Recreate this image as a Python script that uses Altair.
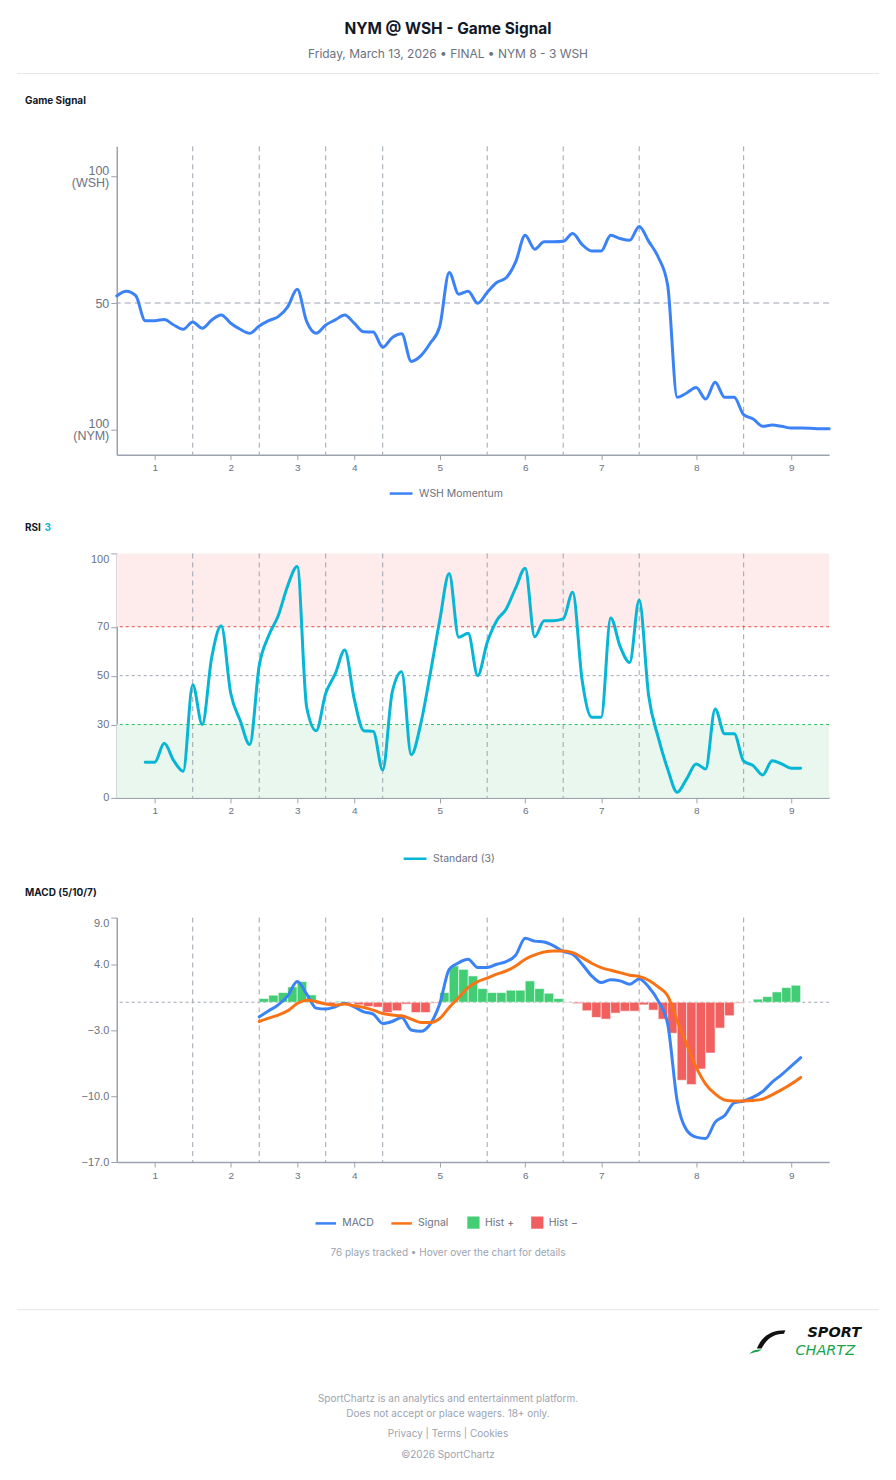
import altair as alt
import pandas as pd

FONT = "Inter"
PANEL_W = 714          # plot width shared by the three panels
LEFT = 116             # plot origin from the page's left edge

# ---------------- game structure ----------------
N_PLAYS = 76
inning_breaks = [8, 15, 22, 28, 39, 47, 55, 66]
inning_ticks = [4, 12, 19, 25, 34, 43, 51, 61, 71]
inning_labels = ["1", "2", "3", "4", "5", "6", "7", "8", "9"]

# ---------------- WSH momentum (0 = NYM 100, 100 = WSH 100) ----------------
wsh_momentum = [52.8, 54.7, 52.9, 43.0, 43.0, 43.5, 41.3, 39.6, 42.5, 40.0,
                43.3, 45.3, 42.0, 39.6, 38.0, 40.9, 43.0, 44.6, 48.5, 55.4,
                42.6, 38.0, 41.3, 43.3, 45.3, 42.0, 38.6, 38.5, 32.5, 36.3,
                37.8, 26.9, 29.1, 34.1, 40.7, 62.1, 53.5, 54.7, 49.9, 54.2,
                58.1, 60.0, 66.3, 76.8, 71.3, 74.2, 74.2, 74.4, 77.5, 73.1,
                70.6, 70.6, 76.8, 75.5, 74.8, 80.3, 74.4, 68.2, 57.0, 12.7,
                14.4, 16.6, 12.0, 18.6, 12.7, 12.7, 5.8, 4.1, 1.2, 1.7,
                1.2, 0.5, 0.5, 0.4, 0.2, 0.2]

# ---------------- RSI(3), first value at play 3 ----------------
rsi_start = 3
rsi_values = [14.6, 14.6, 22.3, 15.2, 10.9, 46.3, 30.0, 57.5, 70.4, 42.8,
              31.6, 21.8, 54.1, 66.4, 74.5, 86.8, 94.6, 37.0, 27.5, 42.8,
              50.7, 60.5, 40.5, 27.5, 27.2, 11.4, 43.2, 51.6, 17.6, 30.2,
              50.7, 72.5, 91.8, 65.7, 67.3, 50.0, 63.6, 72.5, 77.3, 85.9,
              93.9, 65.9, 72.5, 72.5, 73.2, 84.1, 48.0, 33.0, 33.0, 73.6,
              61.9, 55.4, 80.9, 41.8, 24.8, 11.8, 2.3, 7.8, 13.9, 11.8,
              36.4, 26.2, 26.2, 15.0, 13.2, 9.4, 15.2, 13.9, 12.1, 12.1]
rsi_upper, rsi_mid, rsi_lower = 70, 50, 30

# ---------------- MACD(5/10/7), first value at play 15 ----------------
macd_start = 15
macd_values = [-1.55, -0.91, -0.28, 0.68, 2.2, 0.86, -0.63, -0.73, -0.49, -0.1,
               -0.49, -1.02, -1.26, -2.26, -2.05, -1.62, -2.96, -3.1, -2.32, -0.2,
               3.5, 4.2, 4.57, 3.7, 3.7, 4.04, 4.32, 5.0, 6.8, 6.5,
               6.4, 6.0, 5.4, 5.1, 4.04, 2.8, 2.09, 2.4, 2.27, 1.92,
               2.48, 1.63, 0.15, -2.3, -10.5, -13.6, -14.35, -14.5, -12.75, -12.05,
               -10.7, -10.5, -10.1, -9.5, -8.5, -7.7, -6.8, -5.9]
signal_values = [-2.05, -1.69, -1.37, -0.91, -0.14, 0.22, 0.07, -0.2, -0.31, -0.2,
                 -0.38, -0.56, -0.84, -1.2, -1.37, -1.44, -1.79, -2.15, -2.15, -1.73,
                 -0.56, 0.5, 1.56, 2.2, 2.56, 2.98, 3.33, 3.86, 4.57, 5.03,
                 5.34, 5.45, 5.45, 5.27, 4.74, 4.15, 3.68, 3.4, 3.15, 2.87,
                 2.73, 2.34, 1.63, 0.68, -1.97, -4.44, -6.9, -8.7, -9.75, -10.4,
                 -10.5, -10.5, -10.45, -10.3, -9.85, -9.3, -8.7, -8.0]
hist_start = 16
hist_values = [0.39, 0.75, 1.03, 1.63, 2.2, 0.78, -0.2, -0.28, 0.1, -0.1,
               -0.28, -0.46, -0.53, -1.09, -0.91, -0.2, -1.1, -1.1, -0.1, 1.03,
               3.86, 3.5, 2.8, 1.45, 1.03, 1.03, 1.28, 1.28, 2.27, 1.45,
               0.96, 0.39, -0.05, -0.15, -0.91, -1.62, -1.8, -1.16, -0.95, -0.95,
               -0.28, -0.84, -1.8, -3.3, -8.3, -8.76, -7.1, -5.4, -2.75, -1.44,
               -0.1, 0.0, 0.33, 0.6, 1.1, 1.56, 1.81]
macd_ticks = [9, 4, -3, -10, -17]

# ---------------- colours ----------------
BLUE = "#3b82f6"
CYAN = "#06b6d4"
ORANGE = "#f97316"
GREEN = "#22c55e"
RED = "#ef4444"
AXIS_GRAY = "#9ca3af"
LABEL_GRAY = "#6b7280"
DARK = "#111827"

# ---------------- tables ----------------
one = pd.DataFrame({"k": [0]})
gs_df = pd.DataFrame({"play": list(range(N_PLAYS)), "value": wsh_momentum,
                      "series": "WSH Momentum"})
rsi_df = pd.DataFrame({"play": list(range(rsi_start, rsi_start + len(rsi_values))),
                       "value": rsi_values, "series": "Standard (3)"})
macd_plays = list(range(macd_start, macd_start + len(macd_values)))
lines_df = pd.concat([
    pd.DataFrame({"play": macd_plays, "value": macd_values, "series": "MACD"}),
    pd.DataFrame({"play": macd_plays, "value": signal_values, "series": "Signal"}),
])
hist_plays = list(range(hist_start, hist_start + len(hist_values)))
hist_df = pd.DataFrame({
    "start": [p - 1 for p in hist_plays],
    "end": hist_plays,
    "value": hist_values,
    "kind": ["Hist +" if v >= 0 else "Hist \u2212" for v in hist_values],
})
breaks_df = pd.DataFrame({"b": inning_breaks})

# ---------------- shared x axis ----------------
label_list = "[" + ",".join(f"'{s}'" for s in inning_labels) + "]"
tick_list = "[" + ",".join(str(t) for t in inning_ticks) + "]"
x_axis = alt.Axis(values=inning_ticks, labelExpr=f"{label_list}[indexof({tick_list}, datum.value)]",
                  grid=False, domainColor=AXIS_GRAY, domainWidth=1.5, tickColor=AXIS_GRAY,
                  tickSize=5, labelColor=LABEL_GRAY, labelFontSize=10, labelPadding=3)
x_scale = alt.Scale(domain=[0, N_PLAYS - 1], nice=False, zero=False)


def xq(field):
    return alt.X(f"{field}:Q", title=None, scale=x_scale, axis=x_axis)


def text(txt, x, y, size, color, weight="normal", align="center", style="normal", font=FONT):
    return alt.Chart(one).mark_text(
        text=txt, font=font, fontSize=size, fontWeight=weight, color=color,
        align=align, baseline="middle", fontStyle=style,
    ).encode(x=alt.value(x), y=alt.value(y))


def hrule(x1, x2, y, color, width=1.0):
    return alt.Chart(one).mark_rule(color=color, strokeWidth=width).encode(
        x=alt.value(x1), x2=alt.value(x2), y=alt.value(y))


def inning_rules():
    return alt.Chart(breaks_df).mark_rule(color=AXIS_GRAY, strokeWidth=1, strokeDash=[5, 4]).encode(
        x=xq("b"))


def legend(x, y, symbol, size, stroke_w=2.5, col_pad=18):
    return alt.Legend(orient="none", legendX=x, legendY=y, direction="horizontal",
                      symbolType=symbol, symbolSize=size, symbolStrokeWidth=stroke_w,
                      labelFont=FONT, labelFontSize=10.5, labelColor=LABEL_GRAY,
                      labelOffset=5, columnPadding=col_pad)


# ---------------- header ----------------
header = alt.layer(
    hrule(-LEFT, 896 - LEFT, 0, "white"),
    text("NYM @ WSH - Game Signal", 448 - LEFT, 26, 15.5, DARK, weight="bold"),
    text("Friday, March 13, 2026 \u2022 FINAL \u2022 NYM 8 - 3 WSH", 448 - LEFT, 51, 12, LABEL_GRAY),
    hrule(16 - LEFT, 880 - LEFT, 71, "#e5e7eb"),
).properties(width=PANEL_W, height=144)

# ---------------- panel 1: game signal ----------------
gs_y_scale = alt.Scale(domain=[-10, 112], nice=False, zero=False)
gs_y_axis = alt.Axis(values=[0, 50, 100],
                     labelExpr="datum.value == 100 ? ['100', '(WSH)'] : datum.value == 0 ? ['100', '(NYM)'] : datum.label",
                     grid=False, domainColor=AXIS_GRAY, domainWidth=1.5, tickColor=AXIS_GRAY,
                     tickSize=6, labelColor=LABEL_GRAY, labelFontSize=12.5, labelPadding=2,
                     labelLineHeight=12,
                     labelOffset={"condition": {"test": "datum.value != 50", "value": -6},
                                  "value": 0})


def gs_y(field):
    return alt.Y(f"{field}:Q", title=None, scale=gs_y_scale, axis=gs_y_axis)


panel1 = alt.layer(
    inning_rules(),
    alt.Chart(pd.DataFrame({"m": [50]})).mark_rule(
        color=AXIS_GRAY, strokeWidth=1, strokeDash=[6, 4]).encode(y=gs_y("m")),
    alt.Chart(gs_df).mark_line(strokeWidth=3, interpolate="monotone", strokeCap="round").encode(
        x=xq("play"), y=gs_y("value"),
        color=alt.Color("series:N", title=None,
                        scale=alt.Scale(domain=["WSH Momentum"], range=[BLUE]),
                        legend=legend(272, 335, "stroke", 520)),
    ),
    text("Game Signal", 24 - LEFT, -45, 10, DARK, weight="bold", align="left"),
).resolve_scale(color="independent").properties(width=PANEL_W, height=309)

# ---------------- panel 2: RSI ----------------
rsi_y_scale = alt.Scale(domain=[0, 100], nice=False, zero=False)
rsi_y_axis = alt.Axis(values=[0, 30, 50, 70, 100], grid=False, domainColor=AXIS_GRAY,
                      domainWidth=1.5, tickColor=AXIS_GRAY, tickSize=6, labelColor=LABEL_GRAY,
                      labelFontSize=11, labelPadding=2,
                      labelBaseline={"condition": {"test": "datum.value == 100", "value": "top"},
                                     "value": "middle"})


def rsi_y(field):
    return alt.Y(f"{field}:Q", title=None, scale=rsi_y_scale, axis=rsi_y_axis)


zones_df = pd.DataFrame({"lo": [rsi_upper, 0], "hi": [100, rsi_lower],
                         "zone": ["over", "under"]})
levels_df = pd.DataFrame({"lvl": [rsi_mid, rsi_upper, rsi_lower],
                          "kind": ["mid", "upper", "lower"]})

panel2 = alt.layer(
    alt.Chart(zones_df).mark_rect().encode(
        x=alt.value(0), x2=alt.value(PANEL_W),
        y=rsi_y("hi"), y2="lo:Q",
        fill=alt.Fill("zone:N", scale=alt.Scale(domain=["over", "under"],
                                                range=["#fdeceb", "#e9f7ee"]), legend=None),
    ),
    inning_rules(),
    alt.Chart(levels_df).mark_rule(strokeWidth=1, strokeDash=[3, 3]).encode(
        y=rsi_y("lvl"),
        stroke=alt.Stroke("kind:N", scale=alt.Scale(domain=["mid", "upper", "lower"],
                                                    range=[AXIS_GRAY, RED, GREEN]), legend=None),
    ),
    alt.Chart(rsi_df).mark_line(strokeWidth=3, interpolate="monotone", strokeCap="round").encode(
        x=xq("play"), y=rsi_y("value"),
        color=alt.Color("series:N", title=None,
                        scale=alt.Scale(domain=["Standard (3)"], range=[CYAN]),
                        legend=legend(286, 293, "stroke", 520)),
    ),
    text("RSI", 24 - LEFT, -25, 10, DARK, weight="bold", align="left"),
    text("3", 43.5 - LEFT, -25, 10, CYAN, weight="bold", align="left"),
).resolve_scale(fill="independent", stroke="independent", color="independent").properties(
    width=PANEL_W, height=245)

# ---------------- panel 3: MACD ----------------
macd_y_scale = alt.Scale(domain=[-17, 9], nice=False, zero=False)
macd_y_axis = alt.Axis(values=macd_ticks, format=".1f", grid=False, domainColor=AXIS_GRAY,
                       domainWidth=1.5, tickColor=AXIS_GRAY, tickSize=6, labelColor=LABEL_GRAY,
                       labelFontSize=11, labelPadding=2,
                       labelBaseline={"condition": {"test": "datum.value == 9", "value": "top"},
                                      "value": "middle"})


def macd_y(field):
    return alt.Y(f"{field}:Q", title=None, scale=macd_y_scale, axis=macd_y_axis)


panel3 = alt.layer(
    inning_rules(),
    alt.Chart(pd.DataFrame({"z": [0]})).mark_rule(
        color=AXIS_GRAY, strokeWidth=1, strokeDash=[3, 3]).encode(y=macd_y("z")),
    alt.Chart(hist_df).mark_rect(opacity=0.85, stroke="white", strokeWidth=0.6).encode(
        x=xq("start"), x2="end:Q",
        y=macd_y("value"), y2=alt.datum(0),
        fill=alt.Fill("kind:N", title=None,
                      scale=alt.Scale(domain=["Hist +", "Hist \u2212"], range=[GREEN, RED]),
                      legend=legend(351, 299, "square", 150, 0, 16)),
    ),
    alt.Chart(lines_df).mark_line(strokeWidth=3, interpolate="monotone", strokeCap="round").encode(
        x=xq("play"), y=macd_y("value"),
        stroke=alt.Stroke("series:N", title=None,
                          scale=alt.Scale(domain=["MACD", "Signal"], range=[BLUE, ORANGE]),
                          legend=legend(198, 295, "stroke", 420, 2.5, 12)),
        order=alt.Order("series:N"),
    ),
    text("MACD (5/10/7)", 24 - LEFT, -25, 10, DARK, weight="bold", align="left"),
).resolve_scale(fill="independent", stroke="independent").properties(width=PANEL_W, height=245)

# ---------------- footer ----------------
logo_blade = "M 1 -0.64 L 0.93 -0.44 C 0.4 -0.44 0.0 -0.22 -0.32 0.38 L -0.58 0.38 C -0.28 -0.32 0.2 -0.64 1 -0.64 Z"
logo_tail = "M -1 0.68 C -0.82 0.46 -0.62 0.43 -0.3 0.43 L -0.52 0.56 C -0.7 0.58 -0.86 0.63 -1 0.68 Z"
LOGO_FONT = "DejaVu Sans"

footer = alt.layer(
    text("76 plays tracked \u2022 Hover over the chart for details", 448 - LEFT, 91, 10, AXIS_GRAY),
    hrule(16 - LEFT, 880 - LEFT, 148, "#e5e7eb"),
    alt.Chart(one).mark_point(shape=logo_blade, filled=True, size=1300, color="#111111", opacity=1,
                              strokeWidth=0).encode(x=alt.value(768 - LEFT), y=alt.value(180)),
    alt.Chart(one).mark_point(shape=logo_tail, filled=True, size=1300, color="#16a34a", opacity=1,
                              strokeWidth=0).encode(x=alt.value(768 - LEFT), y=alt.value(180)),
    text("SPORT", 862 - LEFT, 171, 14.5, "#111111", weight="bold", align="right", style="italic",
         font=LOGO_FONT),
    text("CHARTZ", 856 - LEFT, 189, 14.5, "#16a34a", weight="normal", align="right", style="italic",
         font=LOGO_FONT),
    text("SportChartz is an analytics and entertainment platform.", 448 - LEFT, 237, 10, AXIS_GRAY),
    text("Does not accept or place wagers. 18+ only.", 448 - LEFT, 253, 10, AXIS_GRAY),
    text("Privacy  |  Terms  |  Cookies", 448 - LEFT, 273, 10, AXIS_GRAY),
    text("\u00a92026 SportChartz", 448 - LEFT, 294, 10, AXIS_GRAY),
    hrule(-LEFT, 896 - LEFT, 318, "white"),
).properties(width=PANEL_W, height=318)


def spacer(h):
    return alt.Chart(one).mark_point(opacity=0).encode(
        x=alt.value(0), y=alt.value(0)).properties(width=PANEL_W, height=h)


chart = alt.vconcat(
    header, panel1, spacer(99), panel2, spacer(120), panel3, footer,
    spacing=0, bounds="flush",
).properties(padding=0, background="white").configure_view(stroke=None)

chart.save("out.html", embed_options={"renderer": "svg", "actions": False})
